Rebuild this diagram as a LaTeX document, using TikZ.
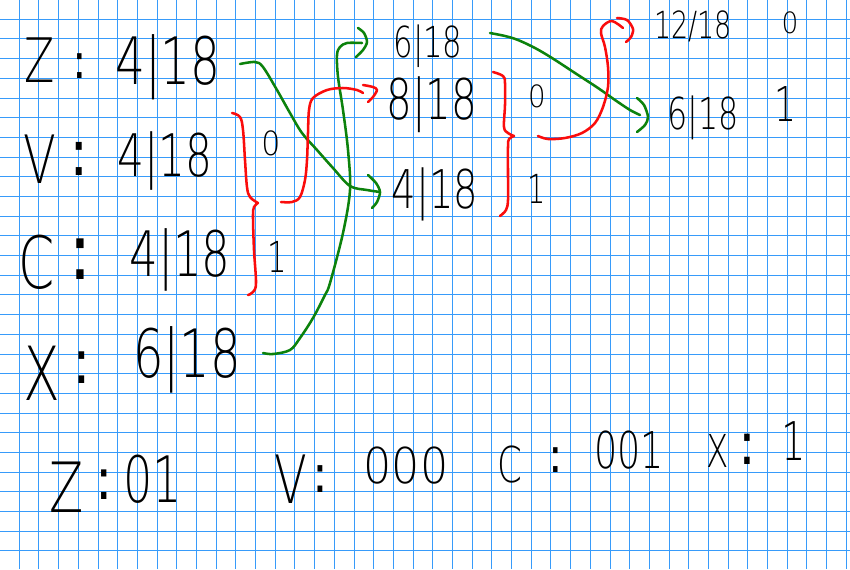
\documentclass[tikz,border=0pt]{standalone}
\usepackage{fontspec}
\setmainfont{DejaVu Sans}
\newfontfamily\hand[FakeStretch=0.72]{DejaVu Sans ExtraLight}
\newfontfamily\handw[FakeStretch=0.9]{DejaVu Sans ExtraLight}
\newfontfamily\colonfont[FakeStretch=0.9]{DejaVu Sans}
\newcommand\fsz[1]{\fontsize{#1}{#1}\selectfont}
\definecolor{gridblue}{RGB}{55,155,250}
\definecolor{penG}{RGB}{12,130,12}
\definecolor{penR}{RGB}{250,12,12}
\begin{document}
\begin{tikzpicture}[x=0.75pt,y=-0.75pt,
  gridline/.style={draw=gridblue,line width=0.95pt},
  txt/.style={anchor=base,inner sep=0pt,text=black},
  gconn/.style={draw=penG,line width=1.9pt,line cap=round,line join=round},
  rconn/.style={draw=penR,line width=1.9pt,line cap=round,line join=round}]
\fill[white] (0,0) rectangle (850,569);
\useasboundingbox (0,0) rectangle (850,569);
\foreach \k in {0,...,42} {
  \pgfmathsetmacro\gx{floor(19.3+\k*19.69)+0.5}
  \draw[gridline] (\gx,0) -- (\gx,569);
}
\foreach \k in {0,...,27} {
  \pgfmathsetmacro\gy{floor(19.3+\k*19.69)+0.5}
  \draw[gridline] (0,\gy) -- (850,\gy);
}

% column 1
\node[txt,font={\hand\fsz{46}}] (lZ) at (40,82) {Z};
\node[txt,font={\colonfont\fsz{36}}] (cZ) at (80,78) {:};
\node[txt,font={\hand\fsz{49}}] (pZ) at (168,84) {4|18};
\node[txt,font={\hand\fsz{50}}] (lV) at (40,183) {V};
\node[txt,font={\colonfont\fsz{48}}] (cV) at (79,175) {:};
\node[txt,font={\hand\fsz{44}}] (pV) at (165,176) {4|18};
\node[txt,font={\hand\fsz{54}}] (lC) at (37,288) {C};
\node[txt,font={\colonfont\fsz{59}}] (cC) at (80,279) {:};
\node[txt,font={\hand\fsz{47}}] (pC) at (180,276) {4|18};
\node[txt,font={\hand\fsz{56}}] (lX) at (42,400) {X};
\node[txt,font={\colonfont\fsz{46}}] (cX) at (82,383) {:};
\node[txt,font={\hand\fsz{50}}] (pX) at (187,377) {6|18};
\node[txt,font={\handw\fsz{25}}] (b1zero) at (271,155) {0};
\node[txt,font={\hand\fsz{32}}] (b1one) at (277,272) {1};

% column 2
\node[txt,font={\hand\fsz{32}}] (q1) at (428,57) {6|18};
\node[txt,font={\hand\fsz{42}}] (q2) at (432,119) {8|18};
\node[txt,font={\hand\fsz{40}}] (q3) at (435,208) {4|18};
\node[txt,font={\handw\fsz{23}}] (b2zero) at (537,107) {0};
\node[txt,font={\hand\fsz{30}}] (b2one) at (537,203) {1};

% column 3
\node[txt,font={\hand\fsz{28}}] (r1) at (693,38) {12/18};
\node[txt,font={\handw\fsz{22}}] (r1c) at (790,33) {0};
\node[txt,font={\hand\fsz{33}}] (r2) at (703,129) {6|18};
\node[txt,font={\hand\fsz{36}}] (r2c) at (785,121) {1};

% bottom codes
\node[txt,font={\hand\fsz{52}}] (sZ) at (67,512) {Z};
\node[txt,font={\colonfont\fsz{43}}] (sZc) at (104,499) {:};
\node[txt,font={\hand\fsz{48}}] (sZv) at (153,502) {01};
\node[txt,font={\hand\fsz{50}}] (sV) at (291,503) {V};
\node[txt,font={\colonfont\fsz{39}}] (sVc) at (320,492) {:};
\node[txt,font={\handw\fsz{37}}] (sVv) at (406,483) {000};
\node[txt,font={\hand\fsz{37}}] (sC) at (510,482) {C};
\node[txt,font={\colonfont\fsz{36}}] (sCc) at (556,472) {:};
\node[txt,font={\hand\fsz{38}}] (sCv) at (629,468) {001};
\node[txt,font={\hand\fsz{34}}] (sX) at (718,467) {X};
\node[txt,font={\colonfont\fsz{44}}] (sXc) at (747,464) {:};
\node[txt,font={\hand\fsz{40}}] (sXv) at (794,460) {1};

% named end points
\coordinate (g1s) at (240,64);  \coordinate (g1e) at (380,192);
\coordinate (g2s) at (263,353); \coordinate (g2e) at (362,43);
\coordinate (r1s) at (281,202); \coordinate (r1e) at (363,93);
\coordinate (r2s) at (538,136); \coordinate (r2e) at (623,28);
\coordinate (g3s) at (490,33);  \coordinate (g3e) at (640,115);
\coordinate (t1) at (258,203);  \coordinate (t2) at (514,136);

% braces
\draw[rconn] plot[smooth,tension=0.6] coordinates {(232,113) (240,117) (243,130) (245,160) (247,187) (250,197) (t1)};
\draw[rconn] plot[smooth,tension=0.6] coordinates {(t1) (254,207) (253,217) (254,250) (256,283) (253,292) (248,295)};
\draw[rconn] plot[smooth,tension=0.6] coordinates {(493,72) (503,76) (505,83) (505,105) (504,127) (508,133) (t2)};
\draw[rconn] plot[smooth,tension=0.6] coordinates {(t2) (509,139) (508,147) (508,175) (508,200) (506,210) (500,216)};

% green connectors
\draw[gconn] plot[smooth,tension=0.55] coordinates {(g1s) (255,62) (263,67) (277,90) (290,113) (302,133) (317,150) (333,168) (350,186) (367,190) (g1e)};
\draw[gconn] plot[smooth] coordinates {(368,175) (376,183) (380,192) (377,202) (372,208)};
\draw[gconn] plot[smooth,tension=0.55] coordinates {(g2s) (273,354) (290,350) (300,338) (313,318) (325,295) (330,283) (343,233) (350,190) (348,150) (343,110) (338,77) (337,55) (340,47) (347,43) (g2e)};
\draw[gconn] plot[smooth] coordinates {(358,28) (364,33) (367,42) (363,50) (356,57)};
\draw[gconn] plot[smooth,tension=0.55] coordinates {(g3s) (505,36) (518,40) (535,48) (552,58) (575,73) (598,88) (615,100) (630,110) (g3e)};
\draw[gconn] plot[smooth] coordinates {(637,98) (644,105) (648,117) (645,125) (637,132)};

% red connectors
\draw[rconn] plot[smooth,tension=0.55] coordinates {(r1s) (292,202) (300,197) (305,180) (307,160) (308,133) (309,110) (313,98) (327,90) (343,88) (357,90) (r1e)};
\draw[rconn] plot[smooth] coordinates {(363,85) (373,87) (377,90) (373,97) (368,102)};
\draw[rconn] plot[smooth,tension=0.55] coordinates {(r2s) (548,139) (565,138) (582,133) (595,123) (603,107) (608,87) (608,67) (605,47) (601,33) (603,26) (612,21) (r2e)};
\draw[rconn] plot[smooth] coordinates {(617,18) (627,20) (633,29) (631,37) (626,42)};
\end{tikzpicture}
\end{document}
